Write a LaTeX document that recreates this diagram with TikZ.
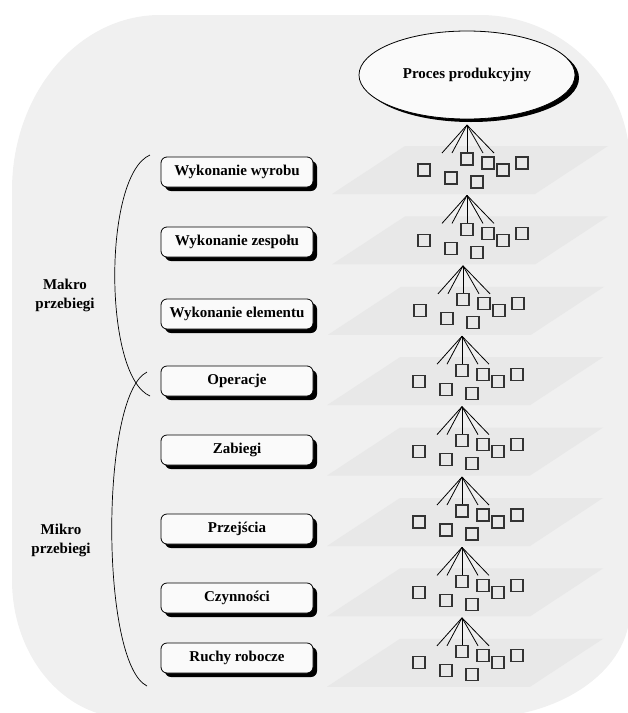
\documentclass[tikz,border=0pt]{standalone}
\usepackage{fontspec}
\setmainfont{Liberation Serif}
\usetikzlibrary{shapes.geometric,shadows}
\definecolor{bgc}{RGB}{240,240,240}
\definecolor{plc}{RGB}{232,232,232}
\definecolor{boxc}{RGB}{250,250,250}
\begin{document}
\begin{tikzpicture}[x=1pt,y=-1pt,
  font=\fontsize{15}{19}\selectfont\bfseries,
  blackshadow/.style={drop shadow={shadow xshift=4pt,shadow yshift=-4pt,fill=black,opacity=1}},
  lbox/.style={draw=black,line width=0.8pt,fill=boxc,rounded corners=6pt,
    minimum width=152pt,minimum height=30pt,inner sep=0pt,blackshadow},
  sq/.style={draw=black!80,line width=1.1pt,minimum size=12pt,inner sep=0pt},
  fan/.style={draw=black,line width=0.8pt},
  brace/.style={draw=black,line width=0.7pt},
  lab/.style={align=center,inner sep=0pt}]
\useasboundingbox (0,0) rectangle (628,713);
\begin{scope}
\clip (0,0) rectangle (628,713);
\fill[bgc] (12,190) .. controls (12,93.3) and (78.3,15) .. (160,15) -- (480,15)
  .. controls (562.8,15) and (630,82.2) .. (630,165) -- (630,610)
  .. controls (630,669.6) and (561.5,718) .. (477,718) -- (128,718)
  .. controls (63.9,718) and (12,656.2) .. (12,580) -- cycle;
\end{scope}

% planes
\foreach \k/\s in {1/0,2/0,3/-4,4/-5,5/-5,6/-5,7/-5,8/-5} {
  \pgfmathsetmacro\T{146+70.4*(\k-1)}
  \pgfmathsetmacro\A{467+\s}
  \fill[plc] (\A-62,\T) -- (\A+141,\T) -- (\A+68,\T+48) -- (\A-135,\T+48) -- cycle;
}

% ellipse
\node[ellipse,draw=black,line width=0.8pt,fill=boxc,minimum width=216pt,minimum height=88pt,
  inner sep=0pt,drop shadow={shadow xshift=4pt,shadow yshift=-3pt,fill=black,opacity=1}]
  (pp) at (467,75) {Proces produkcyjny};

% fans and squares
\foreach \k/\s in {1/0,2/0,3/-4,4/-5,5/-5,6/-5,7/-5,8/-5} {
  \pgfmathsetmacro\T{146+70.4*(\k-1)}
  \pgfmathsetmacro\A{467+\s}
  \node[sq] (s\k a) at (\A-43,\T+24) {};
  \node[sq] (s\k b) at (\A-16,\T+32) {};
  \node[sq] (s\k c) at (\A,\T+13) {};
  \node[sq] (s\k d) at (\A+10,\T+36) {};
  \node[sq] (s\k e) at (\A+21,\T+17) {};
  \node[sq] (s\k f) at (\A+36,\T+24) {};
  \node[sq] (s\k g) at (\A+55,\T+17) {};
  \coordinate (ap\k) at (\A,\T-21);
  \coordinate (e\k a) at (\A-25,\T+7);
  \coordinate (e\k b) at (\A-15,\T+7);
  \coordinate (e\k d) at (\A+16,\T+7);
  \coordinate (e\k e) at (\A+27,\T+7);
  \draw[fan] (ap\k) -- (e\k a);
  \draw[fan] (ap\k) -- (e\k b);
  \draw[fan] (ap\k) -- (s\k c.north);
  \draw[fan] (ap\k) -- (e\k d);
  \draw[fan] (ap\k) -- (e\k e);
}

% boxes
\node[lbox] (wyr) at (237,172) {Wykonanie wyrobu};
\node[lbox] (zes) at (237,242) {Wykonanie zespołu};
\node[lbox] (ele) at (237,314) {Wykonanie elementu};
\node[lbox] (ope) at (237,381) {Operacje};
\node[lbox] (zab) at (237,450) {Zabiegi};
\node[lbox] (prz) at (237,529) {Przejścia};
\node[lbox] (czy) at (237,598) {Czynności};
\node[lbox] (ruc) at (237,658) {Ruchy robocze};

% braces
\draw[brace] (150,155) .. controls (103,175) and (103,376) .. (150,396);
\draw[brace] (147,372) .. controls (100,395) and (100,663) .. (147,686);

% labels
\node[lab] (makro) at (65,295) {Makro\\przebiegi};
\node[lab] (mikro) at (61,540) {Mikro\\przebiegi};
\end{tikzpicture}
\end{document}
